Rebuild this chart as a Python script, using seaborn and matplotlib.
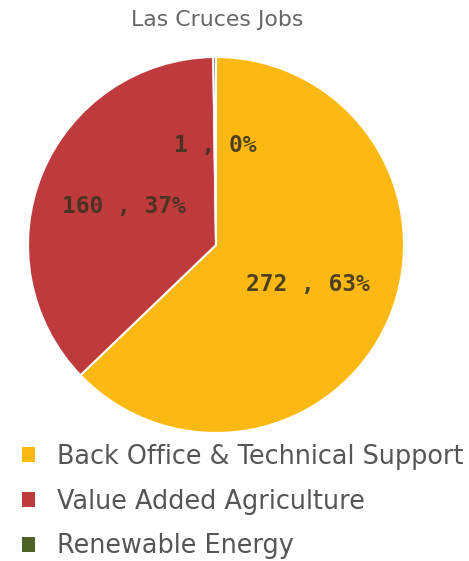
import matplotlib
matplotlib.use("Agg")
import matplotlib.pyplot as plt
import seaborn as sns

# data
categories = ["Back Office & Technical Support", "Value Added Agriculture", "Renewable Energy"]
jobs = [272, 160, 1]
colors = ["#FDB913", "#BF3A3D", "#4E6128"]

sns.set_theme(style="white")
plt.rcParams["font.family"] = ["DejaVu Sans"]

palette = sns.color_palette(colors)
total = sum(jobs)

fig = plt.figure(figsize=(4.69, 5.61), dpi=100)
ax = fig.add_axes([28 / 469, 128 / 561, 376 / 469, 376 / 561])


def fmt(pct):
    return f"{round(pct * total / 100)} , {pct:.0f}%"


wedges, texts, autotexts = ax.pie(
    jobs, colors=palette, startangle=90, counterclock=False,
    autopct=fmt, pctdistance=0.53, radius=1,
    wedgeprops=dict(edgecolor="white", linewidth=1.5),
    textprops=dict(family="DejaVu Sans Mono", fontsize=16.5,
                   fontweight="bold", color="#3b3320"),
)
for t in autotexts:
    t.set_alpha(0.9)
ax.set_xlim(-1, 1)
ax.set_ylim(-1, 1)
ax.set_aspect("equal")
ax.axis("off")

fig.text(217 / 469, 1 - 20 / 561, "Las Cruces Jobs", ha="center", va="center",
         fontsize=15.8, color="#666666")

leg = fig.legend(wedges, categories, loc="upper left",
                 bbox_to_anchor=(22 / 469, 1 - 444 / 561),
                 frameon=False, fontsize=18.4, labelcolor="#555555",
                 borderpad=0, borderaxespad=0,
                 handlelength=0.52, handleheight=0.52, handletextpad=0.86,
                 labelspacing=0.73)
for h in leg.legend_handles:
    h.set_edgecolor("none")

fig.savefig("out.png", dpi=100)
